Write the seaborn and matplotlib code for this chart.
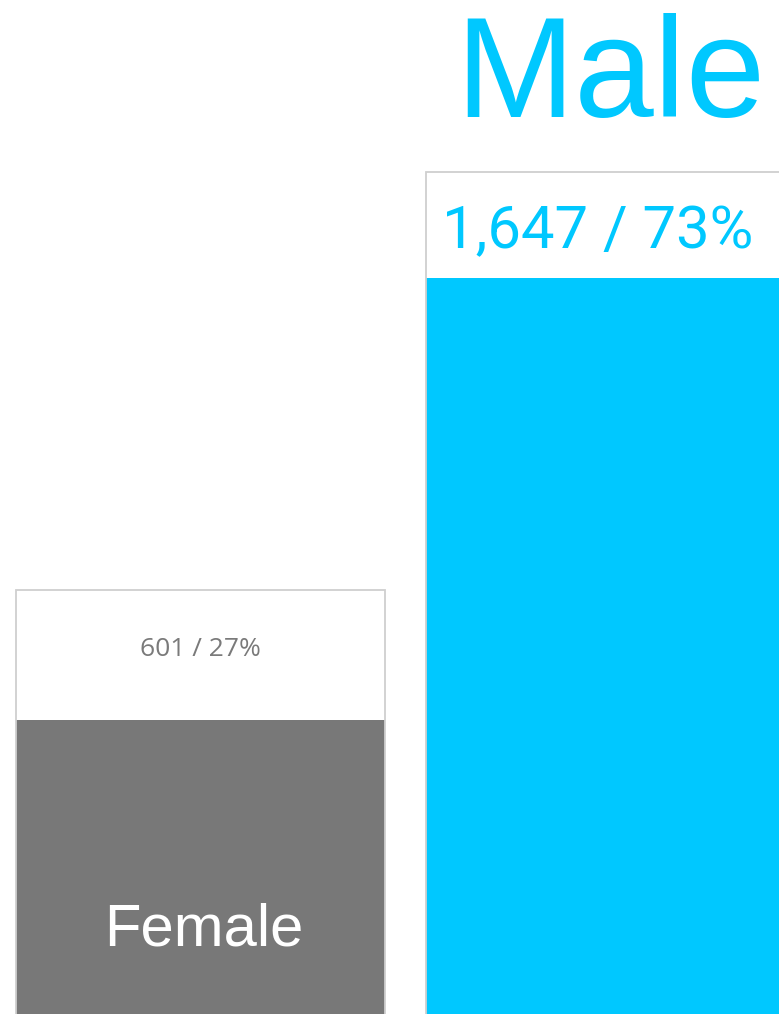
import matplotlib
matplotlib.use("Agg")
import matplotlib.pyplot as plt
import seaborn as sns
import pandas as pd

# ---- data ----
categories = ["Female", "Male"]
counts = [601, 1647]
shares = [27, 73]

# ---- style / layout ----
palette = {"Female": "#787878", "Male": "#00C8FF"}
value_label_colors = {"Female": "#7a7a7a", "Male": "#00C8FF"}
value_label_sizes = {"Female": 19, "Male": 43}
value_label_pos = {"Female": 0.54, "Male": 0.44}   # fraction of the label band
label_band = {"Female": 308, "Male": 251}          # white label area above each bar (data units)
YMIN, YMAX = -95, 2305

df = pd.DataFrame({
    "gender": categories,
    "count": counts,
    "box": [c + label_band[g] for g, c in zip(categories, counts)],
})

sns.set_theme(style="white")
plt.rcParams["font.family"] = ["Liberation Sans", "DejaVu Sans"]

fig = plt.figure(figsize=(7.79, 10.14), dpi=100)
ax = fig.add_axes([0, 0, 1, 1])

# outline boxes (bar + label band)
sns.barplot(data=df, x="gender", y="box", order=categories, fill=False,
            edgecolor="#cfcfcf", linewidth=1.3, width=0.9, ax=ax,
            errorbar=None)
n_box = len(ax.patches)
# filled value bars
sns.barplot(data=df, x="gender", y="count", hue="gender", order=categories,
            hue_order=categories, palette=palette, width=0.9, linewidth=0,
            saturation=1, legend=False, ax=ax, errorbar=None)

for i, p in enumerate(ax.patches):
    top = p.get_y() + p.get_height()
    p.set_y(YMIN - 20)
    p.set_height(top - (YMIN - 20))
    p.set_zorder(3 if i < n_box else 2)

ax.set_xlim(-200 / 410, 579 / 410)
ax.set_ylim(YMIN, YMAX)
ax.axis("off")

# value labels in the white band
for i, (g, c, s) in enumerate(zip(categories, counts, shares)):
    xpos = i if g == "Female" else i - 0.03
    ax.text(xpos, c + label_band[g] * value_label_pos[g], f"{c:,} / {s}%",
            ha="center", va="center", color=value_label_colors[g],
            fontsize=value_label_sizes[g],
            family=["Open Sans", "DejaVu Sans"] if g == "Female" else ["Roboto", "DejaVu Sans"],
            fontweight="normal", zorder=4)

# category names
ax.text(0.01, 66, "Female", ha="center", va="baseline", color="white",
        fontsize=43, zorder=4)
ax.text(1.0, counts[1] + label_band["Male"] + 130, "Male", ha="center",
        va="baseline", color=palette["Male"], fontsize=103, zorder=4)

fig.savefig("out.png", dpi=100)
